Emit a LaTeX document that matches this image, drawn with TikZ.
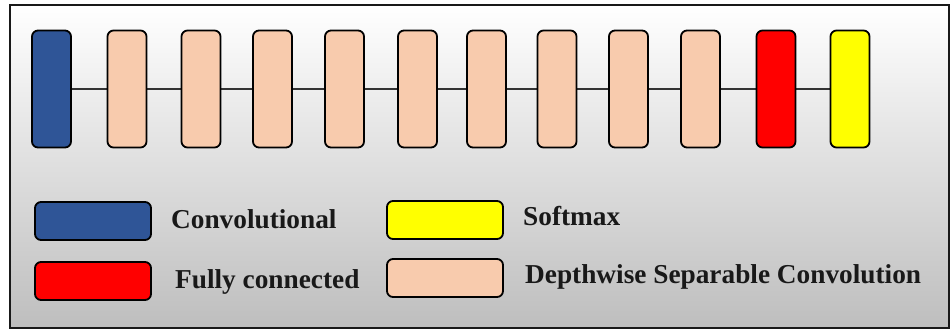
\documentclass[tikz,border=0pt]{standalone}
\usepackage{fontspec}
\setmainfont{Liberation Serif}
\usetikzlibrary{positioning}

\definecolor{convblue}{HTML}{2F5597}
\definecolor{dwpink}{HTML}{F8CBAD}
\definecolor{fcred}{HTML}{FF0000}
\definecolor{smyellow}{HTML}{FFFF00}
\definecolor{panelmid}{HTML}{E8E8E8}
\definecolor{panelbot}{HTML}{BEBEBE}

\tikzset{
  layer/.style={draw=black, line width=1.8pt, rounded corners=6pt,
    minimum width=39pt, minimum height=117pt, inner sep=0pt},
  keybox/.style={draw=black, line width=1.8pt, rounded corners=6pt,
    minimum width=116pt, minimum height=38pt, inner sep=0pt},
  keytext/.style={anchor=base west, inner sep=0pt,
    font=\fontsize{27.3}{31}\selectfont\bfseries, text=black!90},
  link/.style={draw=black!80, line width=1.4pt}
}

\begin{document}
\begin{tikzpicture}[x=1pt, y=-1pt]
  \useasboundingbox (0,0) rectangle (952,330);
  \fill[white] (0,0) rectangle (952,330);

  % panel with a soft vertical gradient
  \shade[top color=white, middle color=panelmid, bottom color=panelbot]
    (10,5) rectangle (949,328);
  \draw[black!90, line width=2pt] (10,5) rectangle (949,328);

  % backbone line behind the layers
  \coordinate (lstart) at (51.5,89);
  \coordinate (lend) at (850,89);
  \draw[link] (lstart) -- (lend);

  % network layers
  \node[layer, fill=convblue] (b0) at (51.5,89) {};
  \foreach \i/\x in {1/127, 2/201, 3/272.5, 4/344.5, 5/417.5, 6/486.5, 7/557, 8/628.5, 9/700.5}
    \node[layer, fill=dwpink] (b\i) at (\x,89) {};
  \node[layer, fill=fcred] (b10) at (776,89) {};
  \node[layer, fill=smyellow] (b11) at (850,89) {};

  % legend
  \node[keybox, fill=convblue] (kconv) at (93,221) {};
  \node[keybox, fill=fcred] (kfc) at (93,281) {};
  \node[keybox, fill=smyellow] (ksm) at (445,220) {};
  \node[keybox, fill=dwpink] (kdw) at (445,278) {};

  \node[keytext] (tconv) at (171,228) {Convolutional};
  \node[keytext] (tfc) at (175,288) {Fully connected};
  \node[keytext] (tsm) at (523,225) {Softmax};
  \node[keytext] (tdw) at (525,283) {Depthwise Separable Convolution};
\end{tikzpicture}
\end{document}
